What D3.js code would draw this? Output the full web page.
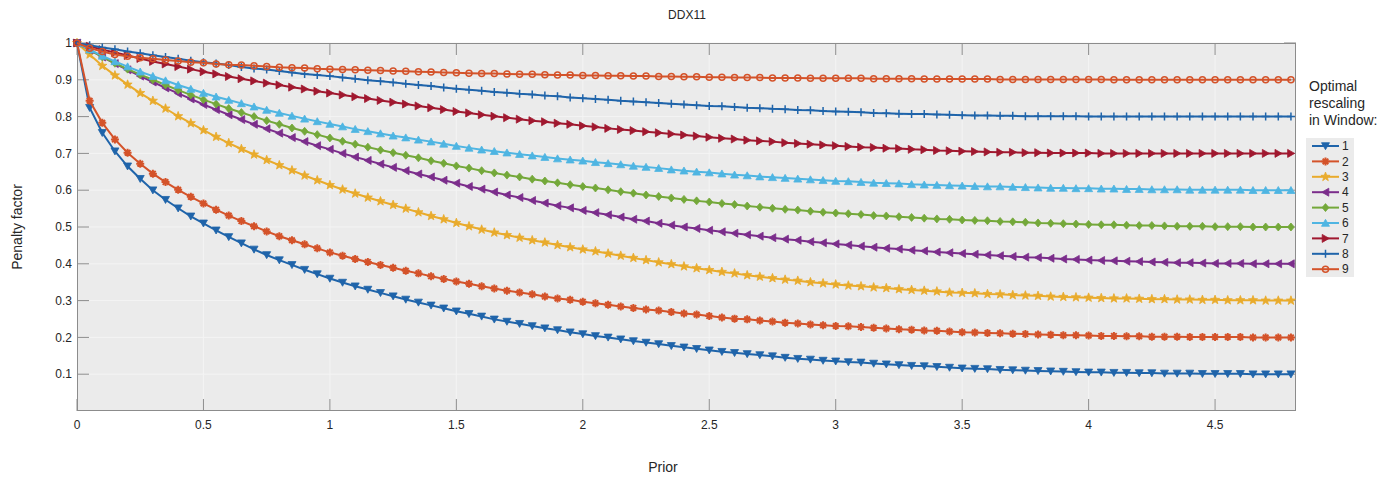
<!DOCTYPE html>
<html>
<head>
<meta charset="utf-8">
<script src="https://cdn.jsdelivr.net/npm/d3@7"></script>
<style>
  body { margin: 0; background: #fff; }
  text { font-family: "Liberation Sans", Arial, Helvetica, sans-serif; fill: #262626; }
</style>
</head>
<body>
<svg width="1400" height="483"></svg>
<script>

// prior values (x) sampled along the curves
const prior = [
    0, 0.05, 0.1, 0.15, 0.2, 0.25, 0.3, 0.35, 0.4, 0.45,
    0.5, 0.55, 0.6, 0.65, 0.7, 0.75, 0.8, 0.85, 0.9, 0.95,
    1, 1.05, 1.1, 1.15, 1.2, 1.25, 1.3, 1.35, 1.4, 1.45,
    1.5, 1.55, 1.6, 1.65, 1.7, 1.75, 1.8, 1.85, 1.9, 1.95,
    2, 2.05, 2.1, 2.15, 2.2, 2.25, 2.3, 2.35, 2.4, 2.45,
    2.5, 2.55, 2.6, 2.65, 2.7, 2.75, 2.8, 2.85, 2.9, 2.95,
    3, 3.05, 3.1, 3.15, 3.2, 3.25, 3.3, 3.35, 3.4, 3.45,
    3.5, 3.55, 3.6, 3.65, 3.7, 3.75, 3.8, 3.85, 3.9, 3.95,
    4, 4.05, 4.1, 4.15, 4.2, 4.25, 4.3, 4.35, 4.4, 4.45,
    4.5, 4.55, 4.6, 4.65, 4.7, 4.75, 4.8
];

// penalty factor, one list per rescaling window
const window1 = [
    1.000, 0.824, 0.756, 0.706, 0.665, 0.631, 0.600, 0.574, 0.551, 0.529,
    0.510, 0.491, 0.473, 0.456, 0.439, 0.424, 0.410, 0.397, 0.384, 0.372,
    0.360, 0.349, 0.339, 0.330, 0.321, 0.312, 0.303, 0.295, 0.287, 0.279,
    0.271, 0.264, 0.257, 0.249, 0.243, 0.237, 0.231, 0.225, 0.220, 0.214,
    0.209, 0.204, 0.200, 0.195, 0.190, 0.186, 0.182, 0.177, 0.173, 0.169,
    0.165, 0.161, 0.158, 0.155, 0.152, 0.149, 0.145, 0.142, 0.140, 0.137,
    0.135, 0.133, 0.132, 0.129, 0.127, 0.125, 0.123, 0.122, 0.120, 0.118,
    0.116, 0.115, 0.114, 0.112, 0.111, 0.110, 0.109, 0.108, 0.107, 0.106,
    0.105, 0.105, 0.104, 0.104, 0.103, 0.103, 0.102, 0.102, 0.102, 0.101,
    0.101, 0.101, 0.101, 0.100, 0.100, 0.100, 0.100
];
const window2 = [
    1.000, 0.843, 0.783, 0.738, 0.702, 0.672, 0.645, 0.622, 0.601, 0.582,
    0.564, 0.547, 0.531, 0.516, 0.502, 0.488, 0.475, 0.464, 0.453, 0.442,
    0.431, 0.422, 0.413, 0.405, 0.397, 0.389, 0.381, 0.374, 0.366, 0.359,
    0.352, 0.346, 0.339, 0.333, 0.327, 0.322, 0.317, 0.311, 0.306, 0.302,
    0.297, 0.293, 0.289, 0.284, 0.280, 0.276, 0.273, 0.269, 0.265, 0.262,
    0.258, 0.254, 0.251, 0.249, 0.246, 0.243, 0.240, 0.238, 0.235, 0.233,
    0.231, 0.230, 0.228, 0.226, 0.224, 0.222, 0.221, 0.219, 0.218, 0.216,
    0.214, 0.213, 0.212, 0.211, 0.210, 0.209, 0.208, 0.207, 0.206, 0.206,
    0.205, 0.204, 0.204, 0.203, 0.203, 0.202, 0.202, 0.202, 0.201, 0.201,
    0.201, 0.201, 0.201, 0.200, 0.200, 0.200, 0.200
];
const window3 = [
    1.000, 0.969, 0.938, 0.912, 0.887, 0.864, 0.843, 0.822, 0.801, 0.782,
    0.763, 0.745, 0.728, 0.712, 0.697, 0.682, 0.668, 0.654, 0.640, 0.627,
    0.614, 0.602, 0.591, 0.580, 0.570, 0.560, 0.550, 0.540, 0.530, 0.521,
    0.511, 0.502, 0.493, 0.485, 0.478, 0.471, 0.464, 0.458, 0.451, 0.445,
    0.439, 0.434, 0.428, 0.422, 0.416, 0.410, 0.404, 0.399, 0.393, 0.388,
    0.383, 0.378, 0.374, 0.369, 0.365, 0.361, 0.357, 0.354, 0.350, 0.347,
    0.344, 0.341, 0.339, 0.336, 0.334, 0.331, 0.329, 0.327, 0.325, 0.322,
    0.321, 0.320, 0.318, 0.317, 0.315, 0.314, 0.313, 0.311, 0.310, 0.309,
    0.308, 0.307, 0.306, 0.306, 0.305, 0.304, 0.304, 0.303, 0.303, 0.302,
    0.302, 0.301, 0.301, 0.301, 0.300, 0.300, 0.300
];
const window4 = [
    1.000, 0.981, 0.962, 0.944, 0.927, 0.910, 0.894, 0.878, 0.863, 0.848,
    0.833, 0.819, 0.805, 0.792, 0.779, 0.767, 0.755, 0.743, 0.732, 0.721,
    0.711, 0.700, 0.690, 0.681, 0.671, 0.662, 0.653, 0.644, 0.636, 0.627,
    0.619, 0.610, 0.603, 0.595, 0.587, 0.580, 0.572, 0.565, 0.558, 0.552,
    0.545, 0.539, 0.533, 0.527, 0.521, 0.516, 0.510, 0.505, 0.500, 0.496,
    0.491, 0.487, 0.483, 0.479, 0.475, 0.471, 0.467, 0.464, 0.460, 0.457,
    0.454, 0.451, 0.448, 0.445, 0.442, 0.440, 0.437, 0.435, 0.432, 0.430,
    0.428, 0.426, 0.424, 0.422, 0.420, 0.418, 0.417, 0.415, 0.413, 0.412,
    0.410, 0.409, 0.408, 0.407, 0.406, 0.405, 0.404, 0.403, 0.403, 0.402,
    0.401, 0.401, 0.401, 0.400, 0.400, 0.400, 0.400
];
const window5 = [
    1.000, 0.981, 0.962, 0.945, 0.929, 0.914, 0.900, 0.886, 0.872, 0.859,
    0.846, 0.834, 0.822, 0.811, 0.800, 0.789, 0.779, 0.769, 0.760, 0.751,
    0.742, 0.733, 0.725, 0.717, 0.709, 0.702, 0.695, 0.688, 0.680, 0.673,
    0.666, 0.660, 0.653, 0.647, 0.641, 0.636, 0.630, 0.625, 0.620, 0.615,
    0.610, 0.606, 0.601, 0.596, 0.592, 0.587, 0.583, 0.579, 0.575, 0.571,
    0.568, 0.564, 0.561, 0.557, 0.554, 0.551, 0.548, 0.546, 0.543, 0.540,
    0.538, 0.536, 0.534, 0.531, 0.530, 0.528, 0.526, 0.524, 0.522, 0.521,
    0.519, 0.518, 0.517, 0.515, 0.514, 0.513, 0.511, 0.510, 0.509, 0.508,
    0.507, 0.506, 0.506, 0.505, 0.504, 0.504, 0.503, 0.502, 0.502, 0.502,
    0.501, 0.501, 0.501, 0.500, 0.500, 0.500, 0.500
];
const window6 = [
    1.000, 0.982, 0.965, 0.950, 0.936, 0.922, 0.910, 0.898, 0.886, 0.875,
    0.864, 0.854, 0.845, 0.836, 0.827, 0.818, 0.810, 0.802, 0.794, 0.787,
    0.780, 0.773, 0.766, 0.760, 0.754, 0.748, 0.743, 0.737, 0.732, 0.726,
    0.720, 0.715, 0.710, 0.706, 0.702, 0.698, 0.694, 0.690, 0.686, 0.683,
    0.680, 0.676, 0.673, 0.670, 0.666, 0.663, 0.660, 0.656, 0.653, 0.650,
    0.648, 0.645, 0.642, 0.640, 0.637, 0.635, 0.633, 0.631, 0.629, 0.627,
    0.625, 0.624, 0.622, 0.620, 0.619, 0.618, 0.616, 0.615, 0.614, 0.613,
    0.612, 0.611, 0.610, 0.610, 0.609, 0.608, 0.607, 0.606, 0.606, 0.605,
    0.605, 0.604, 0.604, 0.603, 0.603, 0.602, 0.602, 0.602, 0.601, 0.601,
    0.601, 0.601, 0.601, 0.600, 0.600, 0.600, 0.600
];
const window7 = [
    1.000, 0.991, 0.982, 0.974, 0.966, 0.958, 0.950, 0.943, 0.936, 0.929,
    0.922, 0.916, 0.909, 0.903, 0.897, 0.891, 0.886, 0.880, 0.875, 0.869,
    0.864, 0.859, 0.854, 0.849, 0.844, 0.839, 0.834, 0.829, 0.824, 0.819,
    0.814, 0.810, 0.805, 0.801, 0.797, 0.793, 0.789, 0.786, 0.782, 0.779,
    0.775, 0.772, 0.768, 0.765, 0.762, 0.759, 0.756, 0.753, 0.750, 0.747,
    0.744, 0.741, 0.739, 0.736, 0.734, 0.732, 0.729, 0.727, 0.725, 0.723,
    0.721, 0.719, 0.717, 0.716, 0.714, 0.713, 0.711, 0.710, 0.708, 0.707,
    0.706, 0.705, 0.704, 0.703, 0.703, 0.702, 0.702, 0.701, 0.701, 0.701,
    0.701, 0.700, 0.700, 0.700, 0.700, 0.700, 0.700, 0.700, 0.700, 0.700,
    0.700, 0.700, 0.700, 0.700, 0.700, 0.700, 0.700
];
const window8 = [
    1.000, 0.994, 0.988, 0.983, 0.977, 0.972, 0.967, 0.962, 0.957, 0.952,
    0.948, 0.944, 0.940, 0.935, 0.931, 0.928, 0.924, 0.920, 0.916, 0.913,
    0.910, 0.906, 0.903, 0.899, 0.896, 0.893, 0.889, 0.886, 0.883, 0.879,
    0.876, 0.873, 0.870, 0.867, 0.865, 0.862, 0.860, 0.857, 0.855, 0.852,
    0.850, 0.848, 0.846, 0.843, 0.841, 0.839, 0.837, 0.835, 0.833, 0.831,
    0.829, 0.828, 0.826, 0.824, 0.823, 0.821, 0.820, 0.818, 0.817, 0.815,
    0.814, 0.813, 0.812, 0.810, 0.809, 0.808, 0.807, 0.807, 0.806, 0.805,
    0.804, 0.803, 0.803, 0.802, 0.802, 0.801, 0.801, 0.801, 0.801, 0.801,
    0.800, 0.800, 0.800, 0.800, 0.800, 0.800, 0.800, 0.800, 0.800, 0.800,
    0.800, 0.800, 0.800, 0.800, 0.800, 0.800, 0.800
];
const window9 = [
    1.000, 0.986, 0.977, 0.969, 0.964, 0.960, 0.957, 0.954, 0.951, 0.948,
    0.946, 0.943, 0.941, 0.940, 0.938, 0.936, 0.934, 0.933, 0.932, 0.930,
    0.929, 0.928, 0.927, 0.926, 0.925, 0.924, 0.923, 0.922, 0.921, 0.920,
    0.919, 0.918, 0.917, 0.917, 0.916, 0.915, 0.915, 0.914, 0.913, 0.913,
    0.912, 0.912, 0.911, 0.911, 0.910, 0.910, 0.909, 0.909, 0.908, 0.908,
    0.907, 0.907, 0.906, 0.906, 0.906, 0.905, 0.905, 0.905, 0.904, 0.904,
    0.904, 0.904, 0.904, 0.903, 0.903, 0.903, 0.903, 0.902, 0.902, 0.902,
    0.902, 0.902, 0.902, 0.901, 0.901, 0.901, 0.901, 0.901, 0.901, 0.901,
    0.901, 0.901, 0.900, 0.900, 0.900, 0.900, 0.900, 0.900, 0.900, 0.900,
    0.900, 0.900, 0.900, 0.900, 0.900, 0.900, 0.900
];

const seriesNames = ['1', '2', '3', '4', '5', '6', '7', '8', '9'];
const seriesValues = [window1, window2, window3, window4, window5, window6, window7, window8, window9];
const xTicks = [0, 0.5, 1, 1.5, 2, 2.5, 3, 3.5, 4, 4.5];
const yTicks = [0.1, 0.2, 0.3, 0.4, 0.5, 0.6, 0.7, 0.8, 0.9, 1];

const colors = ['#1f64aa', '#d4532a', '#e9ab2c', '#7b2d8b', '#74a83a', '#4fb5e2', '#a0182f', '#1f64aa', '#d4532a'];
const markers = ['triDown', 'asterisk', 'star', 'triLeft', 'diamond', 'triUp', 'triRight', 'plus', 'circle'];

const svg = d3.select('svg'),
    plotLeft = 77, plotRight = 1296, plotTop = 43, plotBottom = 411;

const x = d3.scaleLinear().domain([0, 4.82]).range([plotLeft, plotRight]);
const y = d3.scaleLinear().domain([0, 1]).range([plotBottom, plotTop]);

// five pointed star marker
function starPath(ro, ri) {
    let p = '';
    for (let k = 0; k < 10; k++) {
        const r = k % 2 ? ri : ro;
        const a = -Math.PI / 2 + k * Math.PI / 5;
        p += (k ? 'L' : 'M') + (r * Math.cos(a)).toFixed(2) + ',' + (r * Math.sin(a)).toFixed(2);
    }
    return p + 'Z';
}

const markerShapes = {
    triDown: { d: 'M-4,-3.3L4,-3.3L0,3.7Z', filled: true },
    triUp: { d: 'M-4,3.3L4,3.3L0,-3.7Z', filled: true },
    triLeft: { d: 'M3.3,-4L3.3,4L-3.7,0Z', filled: true },
    triRight: { d: 'M-3.3,-4L-3.3,4L3.7,0Z', filled: true },
    diamond: { d: 'M0,-4L3.4,0L0,4L-3.4,0Z', filled: true },
    star: { d: starPath(4.8, 2), filled: true },
    asterisk: { d: 'M-4,0L4,0M0,-4L0,4M-2.8,-2.8L2.8,2.8M-2.8,2.8L2.8,-2.8', filled: false, sw: 2 },
    plus: { d: 'M-4,0L4,0M0,-4L0,4', filled: false },
    circle: { d: 'M3,0A3,3 0 1,1 -3,0A3,3 0 1,1 3,0', filled: false }
};

function markerStroke(shape) {
    return shape.sw || (shape.filled ? 0.8 : 1.5);
}

// axes background and grid
svg.append('rect')
    .attr('x', plotLeft).attr('y', plotTop)
    .attr('width', plotRight - plotLeft).attr('height', plotBottom - plotTop)
    .attr('fill', '#ebebeb');

const grid = svg.append('g')
    .attr('stroke', '#f4f4f4')
    .attr('stroke-width', 1);

grid.selectAll('.gx')
    .data(xTicks.slice(1))
    .join('line')
    .attr('x1', d => x(d)).attr('x2', d => x(d))
    .attr('y1', plotTop).attr('y2', plotBottom);

grid.selectAll('.gy')
    .data(yTicks)
    .join('line')
    .attr('x1', plotLeft).attr('x2', plotRight)
    .attr('y1', d => y(d)).attr('y2', d => y(d));

// tick marks on all four sides
const tickLen = 12;
const ticks = svg.append('g')
    .attr('stroke', '#8c8c8c')
    .attr('stroke-width', 1);

xTicks.forEach(t => {
    ticks.append('line').attr('x1', x(t)).attr('x2', x(t)).attr('y1', plotBottom).attr('y2', plotBottom - tickLen);
    ticks.append('line').attr('x1', x(t)).attr('x2', x(t)).attr('y1', plotTop).attr('y2', plotTop + tickLen);
});
yTicks.forEach(t => {
    ticks.append('line').attr('x1', plotLeft).attr('x2', plotLeft + tickLen).attr('y1', y(t)).attr('y2', y(t));
    ticks.append('line').attr('x1', plotRight).attr('x2', plotRight - tickLen).attr('y1', y(t)).attr('y2', y(t));
});

svg.append('rect')
    .attr('x', plotLeft + 0.5).attr('y', plotTop + 0.5)
    .attr('width', plotRight - plotLeft - 1).attr('height', plotBottom - plotTop - 1)
    .attr('fill', 'none')
    .attr('stroke', '#8c8c8c');

// tick labels
svg.append('g')
    .selectAll('text')
    .data(xTicks)
    .join('text')
    .attr('x', d => x(d))
    .attr('y', plotBottom + 18)
    .attr('text-anchor', 'middle')
    .attr('font-size', 12)
    .text(d => d);

svg.append('g')
    .selectAll('text')
    .data(yTicks)
    .join('text')
    .attr('x', plotLeft - 5)
    .attr('y', d => y(d))
    .attr('dy', '0.35em')
    .attr('text-anchor', 'end')
    .attr('font-size', 12)
    .text(d => d);

// titles
svg.append('text')
    .attr('x', 687).attr('y', 19)
    .attr('text-anchor', 'middle')
    .attr('font-size', 12)
    .text('DDX11');

svg.append('text')
    .attr('x', 663).attr('y', 472)
    .attr('text-anchor', 'middle')
    .attr('font-size', 14)
    .text('Prior');

svg.append('text')
    .attr('transform', 'translate(22,' + ((plotTop + plotBottom) / 2) + ') rotate(-90)')
    .attr('text-anchor', 'middle')
    .attr('font-size', 14)
    .text('Penalty factor');

// curves
const line = d3.line()
    .x((d, i) => x(prior[i]))
    .y(d => y(d));

const plot = svg.append('g');

seriesValues.forEach((values, s) => {
    const shape = markerShapes[markers[s]];
    const sg = plot.append('g');

    sg.append('path')
        .attr('d', line(values))
        .attr('fill', 'none')
        .attr('stroke', colors[s])
        .attr('stroke-width', 2);

    sg.selectAll('path.mk')
        .data(values)
        .join('path')
        .attr('class', 'mk')
        .attr('transform', (d, i) => 'translate(' + x(prior[i]) + ',' + y(d) + ')')
        .attr('d', shape.d)
        .attr('fill', shape.filled ? colors[s] : 'none')
        .attr('stroke', colors[s])
        .attr('stroke-width', markerStroke(shape));
});

// legend
const legTitle = ['Optimal', 'rescaling', 'in Window:'];
svg.append('g')
    .selectAll('text')
    .data(legTitle)
    .join('text')
    .attr('x', 1309)
    .attr('y', (d, i) => 91 + i * 17)
    .attr('font-size', 14)
    .text(d => d);

svg.append('rect')
    .attr('x', 1306).attr('y', 138)
    .attr('width', 48).attr('height', 139)
    .attr('fill', '#ebebeb');

const legend = svg.append('g')
    .selectAll('g')
    .data(seriesNames)
    .join('g')
    .attr('transform', (d, i) => 'translate(1312,' + (146 + i * 15.4) + ')');

legend.append('line')
    .attr('x1', 0).attr('x2', 27)
    .attr('stroke', (d, i) => colors[i])
    .attr('stroke-width', 2);

legend.append('path')
    .attr('transform', 'translate(13.5,0)')
    .attr('d', (d, i) => markerShapes[markers[i]].d)
    .attr('fill', (d, i) => markerShapes[markers[i]].filled ? colors[i] : 'none')
    .attr('stroke', (d, i) => colors[i])
    .attr('stroke-width', (d, i) => markerStroke(markerShapes[markers[i]]));

legend.append('text')
    .attr('x', 30)
    .attr('dy', '0.35em')
    .attr('font-size', 12)
    .text(d => d);

</script>
</body>
</html>
